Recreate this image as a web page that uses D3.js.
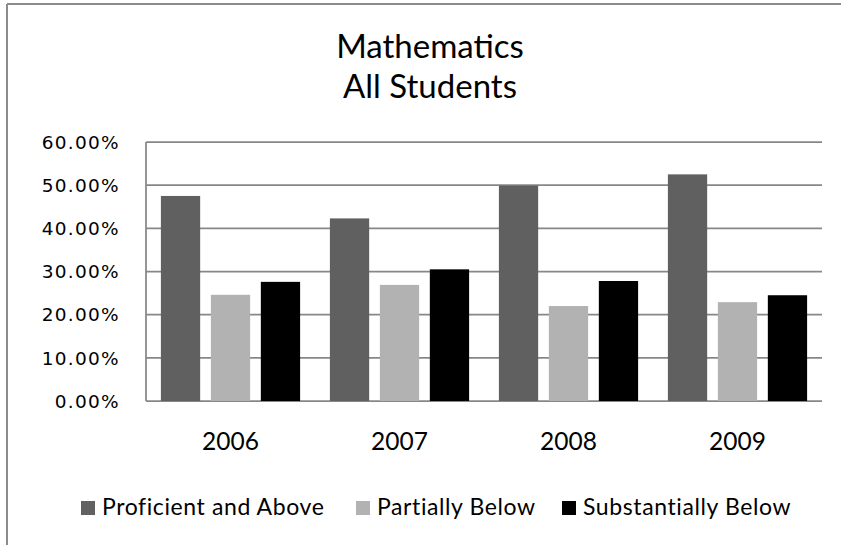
<!DOCTYPE html>
<html>
<head>
<meta charset="utf-8">
<script src="https://cdn.jsdelivr.net/npm/d3@7"></script>
<style>
  html, body { margin: 0; padding: 0; background: #fff; }
  svg { display: block; }
</style>
</head>
<body>
<svg id="chart" width="841" height="545"></svg>
<script>
// Mathematics results, share of all students per achievement band
const years = ["2006", "2007", "2008", "2009"];
const seriesNames = ["Proficient and Above", "Partially Below", "Substantially Below"];
const proficient = [0.475, 0.423, 0.499, 0.525];
const partially = [0.246, 0.269, 0.220, 0.229];
const substantially = [0.276, 0.305, 0.278, 0.245];
const yTicks = [0, 0.1, 0.2, 0.3, 0.4, 0.5, 0.6];
const colors = ["#606060", "#b2b2b2", "#000000"];

const seriesValues = [proficient, partially, substantially];
const table = years.map((year, i) => ({
  year,
  values: seriesNames.map((name, s) => ({ name, s, v: seriesValues[s][i] }))
}));

const svg = d3.select("#chart");
const W = 841, H = 545;
const plot = { left: 146, right: 822, top: 142, bottom: 401 };

// outer frame (top and left edges visible)
svg.append("line").attr("x1", 7).attr("x2", W).attr("y1", 4).attr("y2", 4)
  .attr("stroke", "#8c8c8c").attr("stroke-width", 2);
svg.append("line").attr("x1", 7).attr("x2", 7).attr("y1", 4).attr("y2", H)
  .attr("stroke", "#8c8c8c").attr("stroke-width", 2);

// title
const title = svg.append("text").attr("text-anchor", "middle")
  .attr("font-family", "Lato, 'Noto Sans', sans-serif").attr("font-size", 33).attr("fill", "#000");
title.append("tspan").attr("x", 430).attr("y", 58).text("Mathematics");
title.append("tspan").attr("x", 430).attr("y", 98).text("All Students");

const y = d3.scaleLinear().domain([0, 0.6]).range([plot.bottom, plot.top]);
const x0 = d3.scaleBand().domain(years).range([plot.left, plot.right]).paddingInner(0).paddingOuter(0);
const x1 = d3.scaleBand().domain(seriesNames).range([0, x0.bandwidth()])
  .paddingInner(0.214).paddingOuter(0.298);

// horizontal gridlines
svg.append("g").selectAll("line").data(yTicks).join("line")
  .attr("x1", plot.left).attr("x2", plot.right)
  .attr("y1", d => y(d)).attr("y2", d => y(d))
  .attr("stroke", "#878787").attr("stroke-width", 1.75);

// bars
const groups = svg.append("g").selectAll("g").data(table).join("g")
  .attr("transform", d => `translate(${x0(d.year)},0)`);
groups.selectAll("rect").data(d => d.values).join("rect")
  .attr("x", d => x1(d.name))
  .attr("width", x1.bandwidth())
  .attr("y", d => y(d.v))
  .attr("height", d => y(0) - y(d.v))
  .attr("fill", d => colors[d.s]);

// value axis line
svg.append("line").attr("x1", plot.left).attr("x2", plot.left)
  .attr("y1", plot.top).attr("y2", plot.bottom)
  .attr("stroke", "#878787").attr("stroke-width", 1.75);

// y tick labels
const fmt = d3.format(".2%");
svg.append("g").selectAll("text").data(yTicks).join("text")
  .attr("x", 120).attr("y", d => y(d) + 6.8)
  .attr("text-anchor", "end")
  .attr("font-family", "'DejaVu Sans', sans-serif").attr("font-size", 18.5)
  .attr("letter-spacing", 1.3).attr("fill", "#000")
  .text(d => fmt(d));

// category labels
svg.append("g").selectAll("text").data(years).join("text")
  .attr("x", d => x0(d) + x0.bandwidth() / 2).attr("y", 449.5)
  .attr("text-anchor", "middle")
  .attr("font-family", "Lato, 'Noto Sans', sans-serif").attr("font-size", 24.5).attr("fill", "#000")
  .text(d => d);

// legend
const legendX = [81, 356, 562];
const legend = svg.append("g").selectAll("g").data(seriesNames).join("g")
  .attr("transform", (d, i) => `translate(${legendX[i]},501)`);
legend.append("rect").attr("width", 14).attr("height", 14).attr("fill", (d, i) => colors[i]);
legend.append("text").attr("x", 21).attr("y", 13.5)
  .attr("font-family", "Lato, 'Noto Sans', sans-serif").attr("font-size", 23)
  .attr("letter-spacing", 0.6).attr("fill", "#000")
  .text(d => d);
</script>
</body>
</html>
